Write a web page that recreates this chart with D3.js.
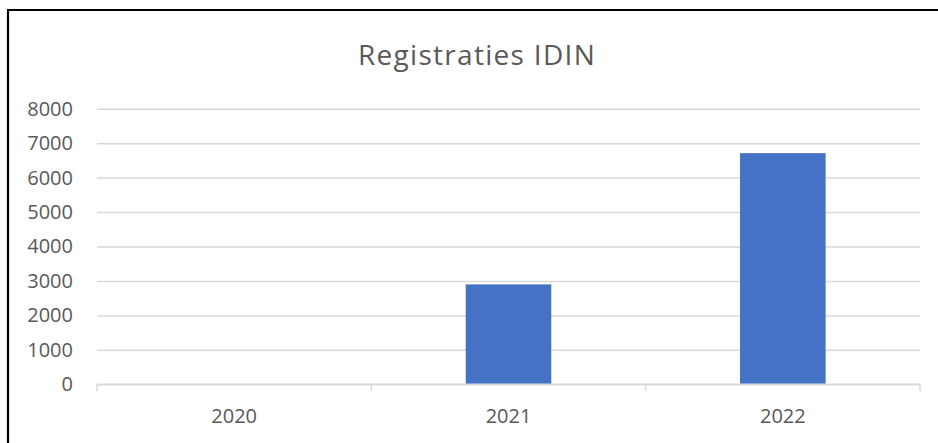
<!DOCTYPE html>
<html>
<head>
<meta charset="utf-8">
<script src="https://cdn.jsdelivr.net/npm/d3@7"></script>
<style>
  body { margin: 0; background: #fff; }
  svg { display: block; }
</style>
</head>
<body>
<svg width="938" height="443"></svg>
<script>
// data
var years = ['2020', '2021', '2022'];
var registraties = [0, 2900, 6710];
var yTicks = [0, 1000, 2000, 3000, 4000, 5000, 6000, 7000, 8000];
var title = 'Registraties IDIN';

var svg = d3.select('svg');
var font = "'Open Sans', 'Noto Sans', sans-serif";
var textColor = '#595959';
var gridColor = '#d9d9d9';

// plot area
var plot = {l: 97, r: 920, t: 108.7, b: 384.3};

var xScale = d3.scaleBand()
  .domain(years)
  .range([plot.l, plot.r])
  .paddingInner(0.688)
  .paddingOuter(0.344);

var yScale = d3.scaleLinear()
  .domain([0, 8000])
  .range([plot.b, plot.t]);

// frame (only left and top edges are visible)
svg.append('path')
  .attr('d', 'M8,443 L8,10 L938,10')
  .attr('fill', 'none')
  .attr('stroke', '#000')
  .attr('stroke-width', 2.2);

// title, centred on the whole chart frame
svg.append('text')
  .attr('x', 477)
  .attr('y', 65)
  .attr('text-anchor', 'middle')
  .style('font-family', font)
  .style('font-size', '28px')
  .style('letter-spacing', '1.3px')
  .style('fill', textColor)
  .text(title);

// grid lines
var yGrid = d3.axisLeft(yScale)
  .tickValues(yTicks)
  .tickSize(-(plot.r - plot.l))
  .tickFormat('');

svg.append('g')
  .attr('class', 'y grid')
  .attr('transform', 'translate(' + plot.l + ',0)')
  .call(yGrid)
  .call(g => g.select('.domain').remove())
  .call(g => g.selectAll('line').attr('stroke', gridColor).attr('stroke-width', 1.5));

// y labels
var yAxis = d3.axisLeft(yScale)
  .tickValues(yTicks)
  .tickSize(0)
  .tickPadding(24)
  .tickFormat(d3.format('d'));

svg.append('g')
  .attr('class', 'y axis')
  .attr('transform', 'translate(' + plot.l + ',0)')
  .call(yAxis)
  .call(g => g.select('.domain').remove())
  .call(g => g.selectAll('text')
    .style('font-family', font)
    .style('font-size', '20px')
    .style('fill', textColor));

// bars
svg.selectAll('.bar')
  .data(years.map((y, i) => ({year: y, value: registraties[i]})))
  .enter()
  .append('rect')
  .attr('class', 'bar')
  .attr('x', d => xScale(d.year))
  .attr('width', xScale.bandwidth())
  .attr('y', d => yScale(d.value))
  .attr('height', d => yScale(0) - yScale(d.value))
  .attr('fill', '#4472c4');

// x axis line and category separator ticks
var step = xScale.step();
var sepTicks = d3.range(years.length + 1).map(i => plot.l + i * step);

svg.append('line')
  .attr('x1', plot.l).attr('x2', plot.r)
  .attr('y1', plot.b).attr('y2', plot.b)
  .attr('stroke', gridColor)
  .attr('stroke-width', 1.5);

svg.selectAll('.sep')
  .data(sepTicks)
  .enter()
  .append('line')
  .attr('class', 'sep')
  .attr('x1', d => d).attr('x2', d => d)
  .attr('y1', plot.b).attr('y2', plot.b + 7)
  .attr('stroke', gridColor)
  .attr('stroke-width', 1.5);

// x labels
svg.selectAll('.x-label')
  .data(years)
  .enter()
  .append('text')
  .attr('class', 'x-label')
  .attr('x', d => xScale(d) + xScale.bandwidth() / 2)
  .attr('y', 423)
  .attr('text-anchor', 'middle')
  .style('font-family', font)
  .style('font-size', '20px')
  .style('fill', textColor)
  .text(d => d);
</script>
</body>
</html>
